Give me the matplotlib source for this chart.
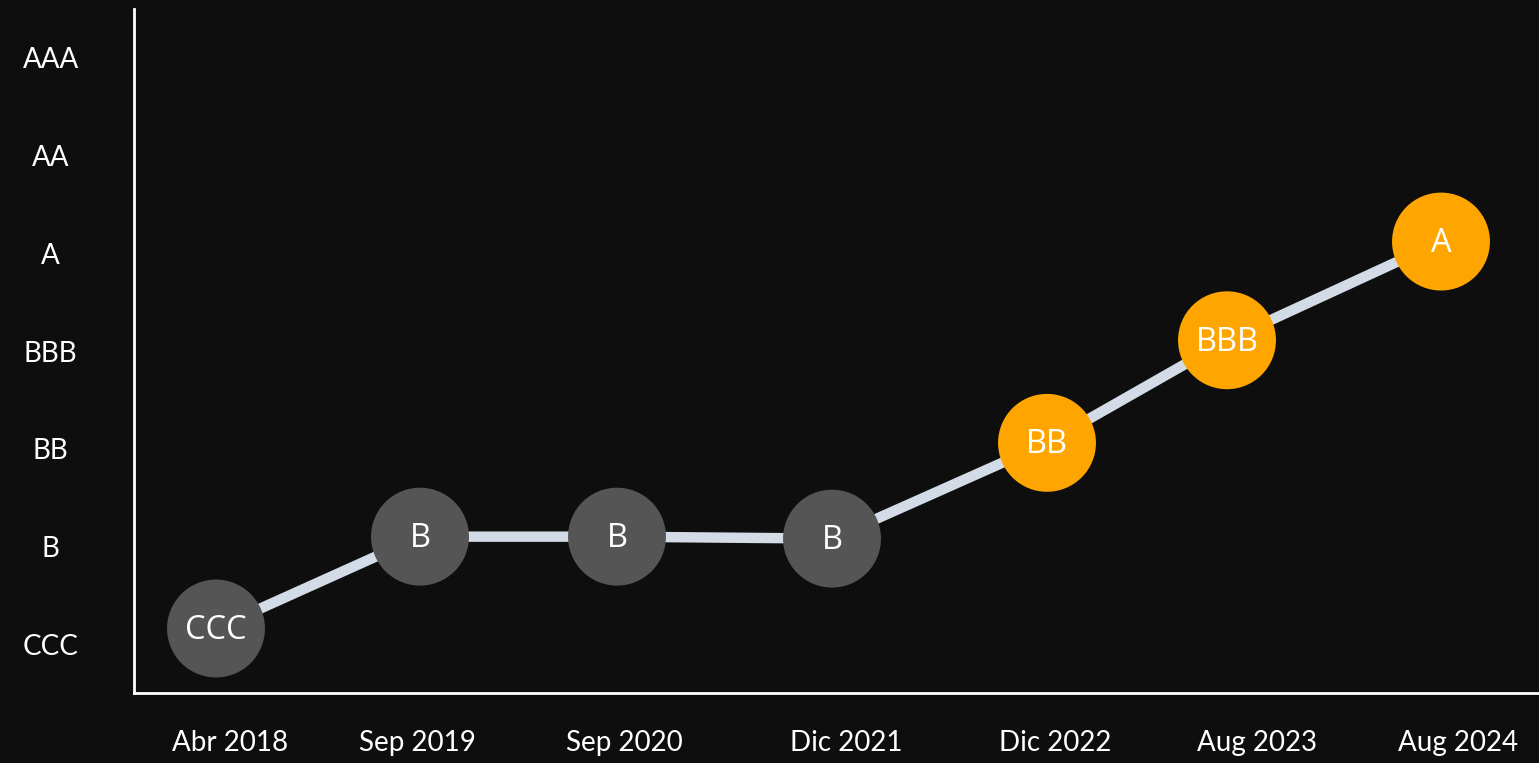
import matplotlib.pyplot as plt
import numpy as np

# ratings scale (bottom -> top)
rating_scale = ["CCC", "B", "BB", "BBB", "A", "AA", "AAA"]

# points: horizontal position (axis units), rating reached
point_x = [0.82, 2.86, 4.83, 6.98, 9.13, 10.93, 13.07]
point_rating = ["CCC", "B", "B", "B", "BB", "BBB", "A"]
point_y = [rating_scale.index(r) for r in point_rating]
point_y_offset = [0.16, 0.10, 0.10, 0.08, 0.06, 0.11, 0.12]
point_color = ["#555555"] * 4 + ["#ffa500"] * 3

# date labels under the axis
date_labels = ["Abr 2018", "Sep 2019", "Sep 2020", "Dic 2021",
               "Dic 2022", "Aug 2023", "Aug 2024"]
date_x = [0.96, 2.83, 4.90, 7.12, 9.21, 11.23, 13.24]

BG = "#0e0e0e"
LABEL_FONT = ["Lato", "DejaVu Sans"]

fig = plt.figure(figsize=(15.39, 7.63), dpi=100, facecolor=BG)
ax = fig.add_axes([134 / 1539, 1 - 693 / 763, 1 - 134 / 1539, (693 - 9) / 763])
ax.set_facecolor(BG)

ys = np.array(point_y) + np.array(point_y_offset)
ax.plot(point_x, ys, color="#d3dbe6", lw=7.5, solid_capstyle="butt", zorder=1)
ax.scatter(point_x, ys, s=70.5 ** 2, c=point_color, zorder=2, linewidths=0)
for x, y, r in zip(point_x, ys, point_rating):
    ax.text(x, y - 0.02, r, color="white", ha="center", va="center",
            fontsize=23.5, family=["Open Sans", "DejaVu Sans"], zorder=3)

ax.set_xlim(0, 14.05)
ax.set_ylim(-0.5, 6.5)

for s in ["top", "right"]:
    ax.spines[s].set_visible(False)
for s in ["left", "bottom"]:
    ax.spines[s].set_color("white")
    ax.spines[s].set_linewidth(2)

ax.set_xticks([])
ax.set_yticks(range(len(rating_scale)))
ax.set_yticklabels(rating_scale, fontsize=20, color="white",
                   family=LABEL_FONT, ha="center")
ax.tick_params(axis="y", length=0, pad=60)

for x, lab in zip(date_x, date_labels):
    ax.text(x, -0.5 - 50 / 97.7, lab, color="white", ha="center", va="center",
            fontsize=20, family=LABEL_FONT, clip_on=False)

fig.savefig("out.png", dpi=100, facecolor=BG)
